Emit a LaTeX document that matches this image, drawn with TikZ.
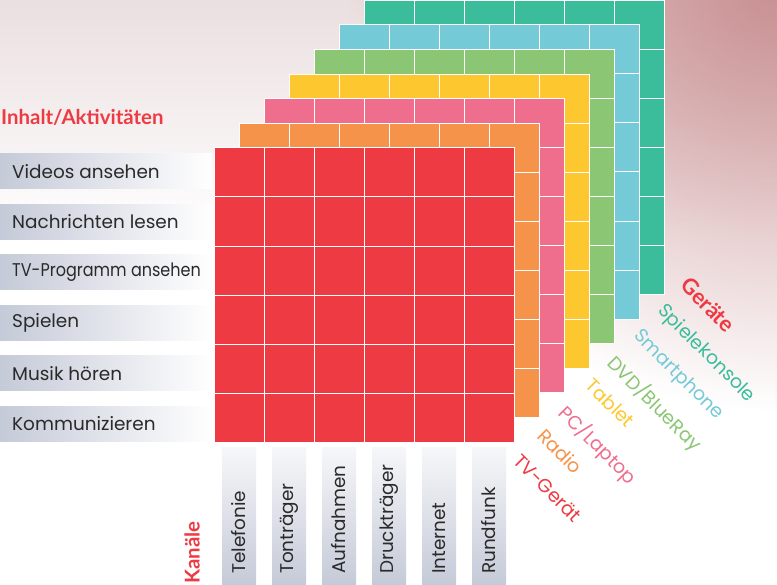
\documentclass[tikz,border=0pt]{standalone}
\usepackage{fontspec}
\setmainfont{Poppins}
\newfontfamily\headfont{Lato}
\usetikzlibrary{positioning,fadings}
\definecolor{layerred}{HTML}{EE3B43}
\definecolor{layerorange}{HTML}{F6934A}
\definecolor{layerpink}{HTML}{EF6E8E}
\definecolor{layeryellow}{HTML}{FDC82F}
\definecolor{layergreen}{HTML}{8BC674}
\definecolor{layercyan}{HTML}{74CBD7}
\definecolor{layerteal}{HTML}{3BBC9B}
\definecolor{rowgray}{HTML}{C5CAD8}
\definecolor{bgtop}{HTML}{EBDFE0}
\definecolor{bgrose}{HTML}{C98F91}
\definecolor{labeltext}{HTML}{2A2A2A}
\tikzfading[name=rosefade, inner color=transparent!0, outer color=transparent!100]
\tikzset{
  cellline/.style={white, line width=1bp},
  layerbox/.style={draw=white, line width=1bp},
  rowlabel/.style={anchor=west, inner sep=0pt, text=labeltext, font=\fontsize{18.5}{18.5}\selectfont},
  collabel/.style={rotate=90, anchor=west, inner sep=0pt, text=labeltext, font=\fontsize{18.5}{18.5}\selectfont},
  devlabel/.style={rotate=-45, anchor=north west, inner sep=0pt, font=\fontsize{19}{19}\selectfont},
  headlabel/.style={inner sep=0pt, text=layerred, font=\headfont\fontsize{20.5}{20.5}\selectfont\bfseries}
}

\begin{document}
\begin{tikzpicture}[x=1bp, y=-1bp]
  \useasboundingbox (0,0) rectangle (777,585);
  % background
  \begin{scope}
    \clip (0,0) rectangle (777,585);
    \fill[white] (0,0) rectangle (777,585);
    \shade[top color=bgtop, bottom color=white] (0,0) rectangle (777,240);
    \fill[bgrose, path fading=rosefade] (777,-20) circle (430);
  \end{scope}

  % device layers, back to front
  \foreach \c [count=\i from 0] in {layerteal,layercyan,layergreen,layeryellow,layerpink,layerorange,layerred} {
    \pgfmathsetmacro\lx{364-25*\i}
    \pgfmathsetmacro\ly{0.4+24.6*\i}
    \filldraw[fill=\c, layerbox] (\lx,\ly) rectangle ++(300,294);
    \foreach \k in {1,...,5} {
      \draw[cellline] (\lx+50*\k,\ly) -- ++(0,294);
      \draw[cellline] (\lx,\ly+49*\k) -- ++(300,0);
    }
  }

  % activities
  \node[headlabel, anchor=west] (inhalt) at (1,117) {Inhalt/Aktivitäten};
  \foreach \i in {0,...,5} {
    \shade[left color=rowgray, right color=white] (0,154+50.4*\i) rectangle ++(212,35);
  }
  \node[rowlabel] (row0) at (12,171.5) {Videos ansehen};
  \node[rowlabel] (row1) at (12,221.9) {Nachrichten lesen};
  \node[rowlabel, transform shape, xscale=0.87] (row2) at (12,272.3) {TV-Programm ansehen};
  \node[rowlabel] (row3) at (12,322.7) {Spielen};
  \node[rowlabel] (row4) at (12,373.1) {Musik hören};
  \node[rowlabel] (row5) at (12,423.5) {Kommunizieren};

  % channels
  \node[headlabel, rotate=90, anchor=west] (kanaele) at (192,584) {Kanäle};
  \foreach \t [count=\i from 0] in {Telefonie,Tonträger,Aufnahmen,Druckträger,Internet,Rundfunk} {
    \shade[top color=white!85!rowgray, bottom color=rowgray] (222+50*\i,447) rectangle ++(34,138);
    \node[collabel] (col\i) at (239+50*\i,574) {\t};
  }

  % devices
  \node[devlabel, text=layerred] (tv) at (522,452) {TV-Gerät};
  \node[devlabel, text=layerorange] (radio) at (546.2,426.9) {Radio};
  \node[devlabel, text=layerpink] (pc) at (570.4,401.8) {PC/Laptop};
  \node[devlabel, text=layeryellow] (tablet) at (594.6,376.7) {Tablet};
  \node[devlabel, text=layergreen] (dvd) at (618.8,351.6) {DVD/BlueRay};
  \node[devlabel, text=layercyan] (phone) at (643,326.5) {Smartphone};
  \node[devlabel, text=layerteal] (konsole) at (667.2,301.4) {Spielekonsole};
  \node[devlabel, text=layerred, font=\headfont\fontsize{22}{22}\selectfont\bfseries] (geraete) at (690.4,275.3) {Geräte};
\end{tikzpicture}
\end{document}
